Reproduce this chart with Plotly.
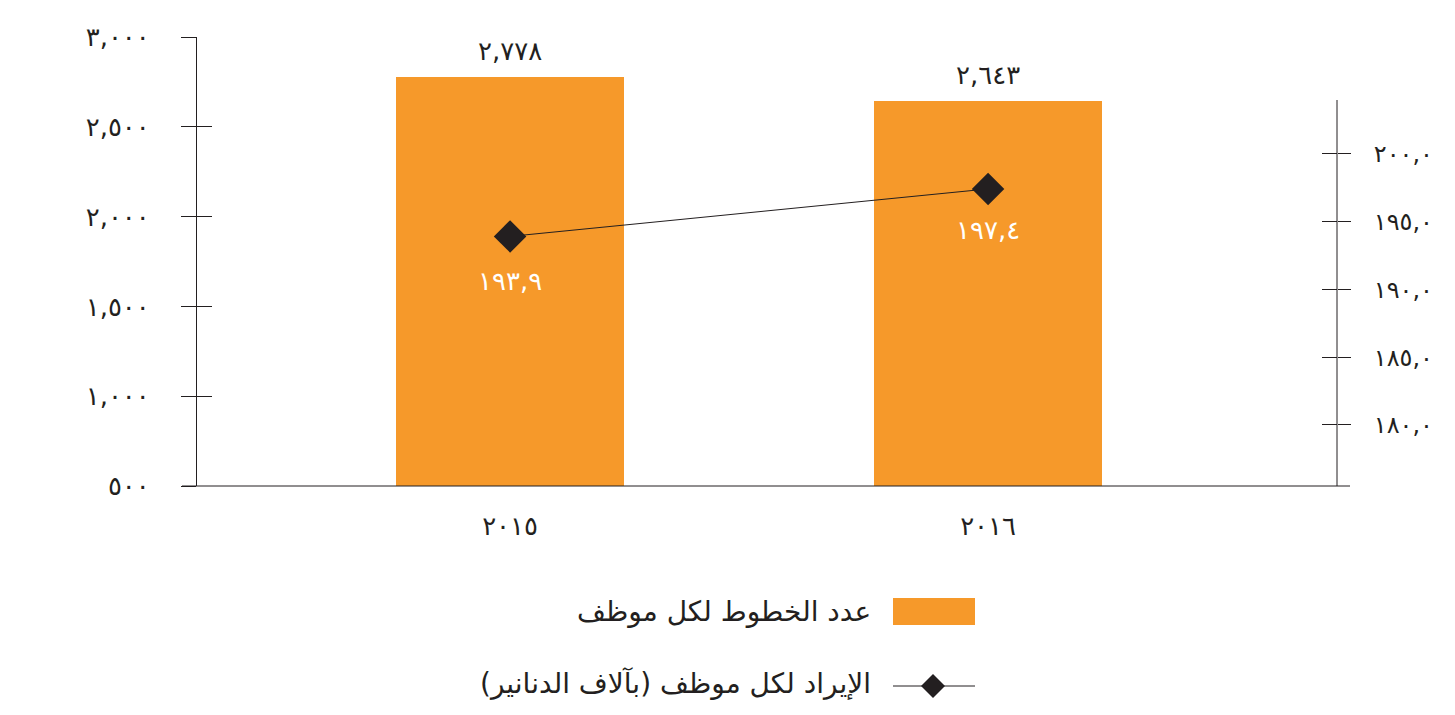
import plotly.graph_objects as go

# ---- data ----
years = ["2015", "2016"]
year_labels = ["٢٠١٥", "٢٠١٦"]
lines_per_employee = [2778, 2643]
revenue_per_employee = [193.9, 197.4]
left_ticks = [500, 1000, 1500, 2000, 2500, 3000]
right_ticks = [180, 185, 190, 195, 200]
legend_bar = "عدد الخطوط لكل موظف"
legend_line = "\u200fالإيراد لكل موظف (بآلاف الدنانير)\u200f"

AR = str.maketrans("0123456789", "٠١٢٣٤٥٦٧٨٩")


def ar(s):
    return s.translate(AR)


left_text = [ar(f"{v:,}") for v in left_ticks]
right_text = [ar(f"{v:.1f}".replace(".", ",")) for v in right_ticks]
bar_text = [ar(f"{v:,}") for v in lines_per_employee]
line_text = [ar(f"{v:.1f}".replace(".", ",")) for v in revenue_per_employee]

ORANGE = "#F6992A"
DARK = "#231F20"
FONT = "DejaVu Sans, Noto Sans, sans-serif"

# page has an 8px body margin; figure coordinates are page coordinates - 8
OFF = 8
W, H = 1455 - OFF, 715 - OFF
L, T = 197 - OFF, 37 - OFF
R = W - (1337 - OFF)
B = H - (486 - OFF)
PW, PH = W - L - R, H - T - B

Y_LEFT = [500, 3000]
Y_RIGHT = [175.5, 208.6]

fig = go.Figure()
fig.add_trace(go.Bar(x=years, y=lines_per_employee, width=0.477,
                     marker=dict(color=ORANGE, line=dict(width=0)),
                     showlegend=False, hoverinfo="skip"))
fig.add_trace(go.Scatter(x=years, y=revenue_per_employee, yaxis="y2",
                         mode="lines+markers",
                         line=dict(color=DARK, width=1),
                         marker=dict(symbol="diamond", size=25, color=DARK),
                         showlegend=False, cliponaxis=False, hoverinfo="skip"))
# invisible helpers so the inner-tick axes are drawn
fig.add_trace(go.Scatter(x=years, y=lines_per_employee, yaxis="y3", mode="none",
                         showlegend=False, hoverinfo="skip"))
fig.add_trace(go.Scatter(x=years, y=revenue_per_employee, yaxis="y4", mode="none",
                         showlegend=False, hoverinfo="skip"))

annotations = []
for i, (v, t) in enumerate(zip(lines_per_employee, bar_text)):
    annotations.append(dict(x=i, y=v, xref="x", yref="y", text=t, showarrow=False,
                            yanchor="middle", yshift=26,
                            font=dict(size=26, color=DARK, family=FONT)))
for i, (v, t, s) in enumerate(zip(revenue_per_employee, line_text, [-45, -41])):
    annotations.append(dict(x=i, y=v, xref="x", yref="y2", text=t, showarrow=False,
                            yanchor="middle", yshift=s,
                            font=dict(size=26, color="white", family=FONT)))


def px_x(px):
    return (px - OFF - L) / PW


def px_y(py):
    return (T + PH - (py - OFF)) / PH


# legend (drawn manually, symbols to the right of text as in the RTL original)
annotations.append(dict(x=px_x(873), y=px_y(611), xref="paper", yref="paper",
                        text=legend_bar, showarrow=False, xanchor="right",
                        yanchor="middle", font=dict(size=28, color=DARK, family=FONT)))
annotations.append(dict(x=px_x(873), y=px_y(683), xref="paper", yref="paper",
                        text=legend_line, showarrow=False, xanchor="right",
                        yanchor="middle", font=dict(size=28, color=DARK, family=FONT)))

shapes = [
    # baseline
    dict(type="line", xref="paper", yref="paper", x0=px_x(182), x1=px_x(1350),
         y0=0, y1=0, line=dict(color=DARK, width=1)),
    # right axis line
    dict(type="line", xref="paper", yref="paper", x0=1, x1=1,
         y0=0, y1=px_y(100), line=dict(color=DARK, width=1)),
    # legend swatch
    dict(type="rect", xref="paper", yref="paper", x0=px_x(893), x1=px_x(975),
         y0=px_y(625), y1=px_y(598), fillcolor=ORANGE, line=dict(width=0)),
    # legend line symbol
    dict(type="line", xref="paper", yref="paper", x0=px_x(893), x1=px_x(975),
         y0=px_y(686), y1=px_y(686), line=dict(color=DARK, width=1)),
]
cx, cy, hw = 933, 686, 12
path = "M {} {} L {} {} L {} {} L {} {} Z".format(
    px_x(cx - hw), px_y(cy), px_x(cx), px_y(cy - hw),
    px_x(cx + hw), px_y(cy), px_x(cx), px_y(cy + hw))
shapes.append(dict(type="path", xref="paper", yref="paper", path=path,
                   fillcolor=DARK, line=dict(color=DARK, width=0)))

fig.update_layout(
    width=W, height=H,
    margin=dict(l=L, r=R, t=T, b=B, autoexpand=False),
    paper_bgcolor="white", plot_bgcolor="rgba(0,0,0,0)",
    font=dict(family=FONT, color=DARK, size=20),
    bargap=0,
    xaxis=dict(type="category", range=[-0.655, 1.73], tickvals=years,
               ticktext=year_labels, ticks="", showline=False, showgrid=False,
               zeroline=False, ticklabelstandoff=22,
               tickfont=dict(size=26, color=DARK, family=FONT)),
    yaxis=dict(range=Y_LEFT, tickvals=left_ticks, ticktext=left_text,
               ticks="outside", ticklen=15, tickwidth=1, tickcolor=DARK,
               showline=True, linecolor=DARK, linewidth=1, showgrid=False,
               zeroline=False, ticklabelstandoff=26,
               tickfont=dict(size=26, color=DARK, family=FONT)),
    yaxis3=dict(overlaying="y", side="left", anchor="x", range=Y_LEFT,
                tickvals=left_ticks, ticks="inside", ticklen=15, tickwidth=1,
                tickcolor=DARK, showticklabels=False, showline=False,
                showgrid=False, zeroline=False),
    yaxis2=dict(overlaying="y", side="right", anchor="x", range=Y_RIGHT,
                tickvals=right_ticks, ticktext=right_text, ticks="outside",
                ticklen=13, tickwidth=1, tickcolor=DARK, showline=False,
                showgrid=False, zeroline=False, ticklabelstandoff=18,
                tickfont=dict(size=24, color=DARK, family=FONT)),
    yaxis4=dict(overlaying="y", side="right", anchor="x", range=Y_RIGHT,
                tickvals=right_ticks, ticks="inside", ticklen=15, tickwidth=1,
                tickcolor=DARK, showticklabels=False, showline=False,
                showgrid=False, zeroline=False),
    annotations=annotations,
    shapes=shapes,
    showlegend=False,
)

fig.write_html("out.html")
